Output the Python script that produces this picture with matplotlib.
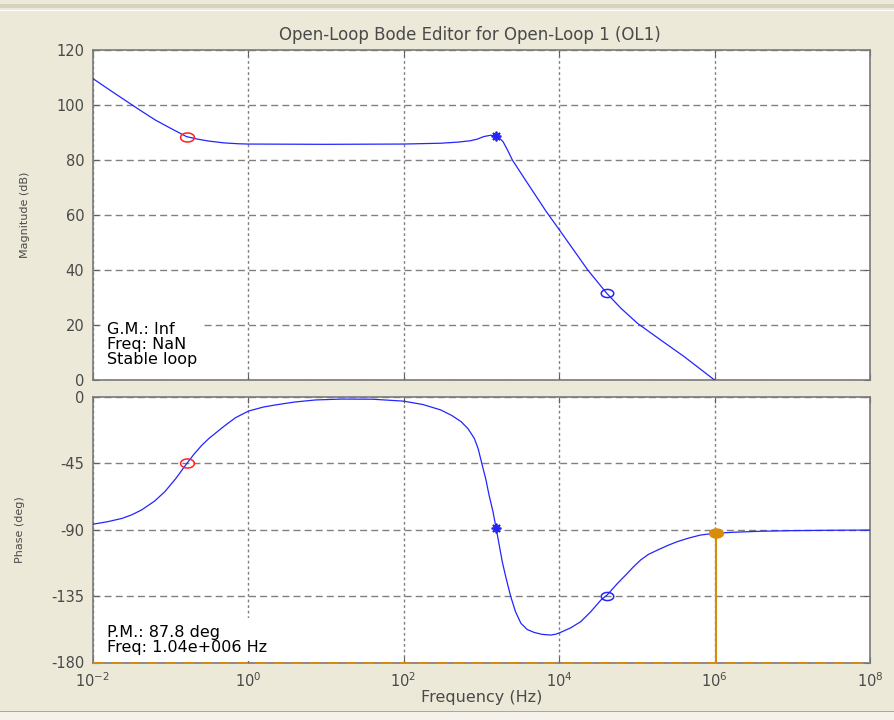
import numpy as np
import matplotlib
matplotlib.use("Agg")
import matplotlib.pyplot as plt
from matplotlib.path import Path
from matplotlib.patches import Rectangle
from matplotlib.ticker import FixedLocator, NullLocator, LogFormatterMathtext

plt.rcParams['font.family'] = ['DejaVu Sans']
plt.rcParams['mathtext.default'] = 'regular'
plt.rcParams['axes.unicode_minus'] = False

# ---------------- data ----------------
mag_freq = [0.01, 0.0178, 0.0316, 0.0447, 0.0646, 0.1, 0.162, 0.224, 0.309,
            0.5, 0.759, 1.0, 10.0, 100.0, 302.0, 501.0, 724.0, 891.0, 1072.0,
            1318.0, 1549.0, 1698.0, 1905.0, 2188.0, 2512.0, 3548.0, 6761.0,
            10470.0, 23440.0, 41210.0, 63100.0, 102300.0, 204200.0, 407400.0,
            1.0e6, 1.0e7]
mag_db = [109.7, 104.9, 100.2, 97.4, 94.5, 91.6, 88.5, 87.6, 86.9,
          86.2, 85.9, 85.8, 85.7, 85.8, 86.1, 86.5, 87.0, 87.6, 88.5,
          89.0, 88.7, 88.0, 86.7, 83.5, 80.0, 73.5, 61.5,
          54.0, 40.0, 31.5, 26.0, 20.6, 14.5, 8.5,
          0.0, -19.0]

phase_freq = [0.01, 0.0158, 0.024, 0.0316, 0.0427, 0.0631, 0.0851, 0.117,
              0.162, 0.204, 0.257, 0.316, 0.380, 0.501, 0.692, 1.02, 1.58,
              2.24, 3.98, 7.41, 16.2, 39.8, 100.0, 178.0, 302.0, 417.0, 550.0,
              676.0, 813.0, 912.0, 1023.0, 1148.0, 1259.0, 1413.0, 1549.0,
              1698.0, 1862.0, 2089.0, 2399.0, 2754.0, 3236.0, 3890.0, 4786.0,
              6026.0, 7762.0, 9120.0, 10470.0, 14130.0, 19050.0, 25700.0,
              34670.0, 41690.0, 56230.0, 75860.0, 91200.0, 112200.0, 141300.0,
              186200.0, 251200.0, 331100.0, 467700.0, 660700.0, 1.0e6, 1.778e6,
              3.98e6, 1.0e7, 3.16e7, 1.0e8]
phase_deg = [-86.3, -84.5, -82.3, -80.0, -76.6, -70.5, -64.2, -55.5,
             -45.3, -38.5, -32.5, -28.0, -24.6, -19.5, -14.0, -9.5, -6.8,
             -5.4, -3.4, -2.0, -1.4, -1.5, -2.8, -5.1, -8.8, -12.5, -16.7,
             -21.5, -28.0, -35.0, -45.6, -56.0, -66.4, -77.5, -88.6,
             -100.0, -111.6, -123.0, -135.4, -145.5, -153.4, -157.6, -159.6,
             -160.9, -161.4, -160.8, -159.6, -156.5, -152.3, -145.5,
             -137.6, -134.2, -126.5, -119.5, -115.0, -110.5, -106.7,
             -103.7, -100.6, -98.1, -95.6, -93.6, -92.4, -91.7,
             -91.0, -90.6, -90.35, -90.2]

# compensator / plant markers
zero1_freq, zero1_mag, zero1_phase = 0.162, 88.5, -45.0
pole_freq, pole_mag, pole_phase = 1549.0, 88.7, -88.6
zero2_freq, zero2_mag, zero2_phase = 41210.0, 31.5, -135.0
pm_freq, pm_phase = 1.04e6, -92.2

mag_ticks = [0, 20, 40, 60, 80, 100, 120]
phase_ticks = [-180, -135, -90, -45, 0]
phase_ticklabels = ['-180', '-135', '-90', '-45', '0']
freq_ticks = [1e-2, 1e0, 1e2, 1e4, 1e6, 1e8]

gm_text = "G.M.: Inf\nFreq: NaN\nStable loop"
pm_text = "P.M.: 87.8 deg\nFreq: 1.04e+006 Hz"
title = "Open-Loop Bode Editor for Open-Loop 1 (OL1)"

# ---------------- styling ----------------
W, H = 894, 720
bg = '#ECE9D8'
blue = '#2424ff'
red = '#ff2020'
orange = '#D98B0A'
gridc = '#808080'
txtc = '#4a4a4a'

theta = np.linspace(0, 2 * np.pi, 64)
ellipse = Path(np.column_stack([np.cos(theta), 0.65 * np.sin(theta)]))

fig = plt.figure(figsize=(W / 100, H / 100), dpi=100, facecolor=bg)

def fx(px):
    return px / W

def fy(py):
    return 1 - py / H

# window decorations
fig.add_artist(Rectangle((0, fy(8)), 1, 4 / H, transform=fig.transFigure,
                         facecolor='#D6D2BE', edgecolor='none', zorder=-5))
fig.add_artist(Rectangle((0, fy(11)), 1, 1.5 / H, transform=fig.transFigure,
                         facecolor='white', edgecolor='none', zorder=-5))
fig.add_artist(Rectangle((0, 0), 1, 9 / H, transform=fig.transFigure,
                         facecolor='#F4F2EA', edgecolor='none', zorder=-5))
fig.add_artist(Rectangle((0, fy(712)), 1, 1.5 / H, transform=fig.transFigure,
                         facecolor='#A8A8A0', edgecolor='none', zorder=-5))

left, right = 92.5, 870
ax1 = fig.add_axes([fx(left), fy(380), fx(right - left), (380 - 50) / H])
ax2 = fig.add_axes([fx(left), fy(662.5), fx(right - left), (662.5 - 397) / H])

for ax in (ax1, ax2):
    ax.set_facecolor('white')
    ax.set_xscale('log')
    ax.set_xlim(1e-2, 1e8)
    ax.xaxis.set_major_locator(FixedLocator(freq_ticks))
    ax.xaxis.set_minor_locator(NullLocator())
    ax.set_axisbelow(True)
    ax.xaxis.grid(True, linestyle=(0, (2, 2)), color=gridc, lw=1.0)
    ax.yaxis.grid(True, linestyle=(0, (5, 3)), color=gridc, lw=1.0)
    ax.tick_params(which='both', direction='in', top=True, right=True,
                   length=4, width=0.8, color='#606060', labelcolor=txtc,
                   labelsize=10.5, pad=6)
    for s in ax.spines.values():
        s.set_color('#7a7a7a')
        s.set_linewidth(1.2)

# ---- magnitude ----
ax1.plot(mag_freq, mag_db, color=blue, lw=0.9, zorder=3)
ax1.plot([zero1_freq], [zero1_mag], marker=ellipse, ms=10, mfc='none', mec=red, mew=1.1, ls='none', zorder=5)
ax1.plot([pole_freq], [pole_mag], marker=(8, 2, 0), ms=7, mec=blue, mew=1.3, ls='none', zorder=5)
ax1.plot([zero2_freq], [zero2_mag], marker=ellipse, ms=9, mfc='none', mec=blue, mew=1.1, ls='none', zorder=5)
ax1.set_ylim(0, 120)
ax1.set_yticks(mag_ticks)
ax1.tick_params(labelbottom=False)
ax1.set_ylabel('Magnitude (dB)', fontsize=8, color=txtc)
ax1.yaxis.set_label_coords((30 - left) / (right - left), 0.5)
ax1.text(0.0186, 0.040, gm_text, transform=ax1.transAxes, fontsize=11.5,
         color='black', ha='left', va='bottom', linespacing=0.98, zorder=4,
         bbox=dict(boxstyle='square,pad=0.4', facecolor='white', edgecolor='none'))
fig.text(0.526, fy(35), title, fontsize=12, color=txtc, ha='center', va='center')

# ---- phase ----
ax2.plot(phase_freq, phase_deg, color=blue, lw=0.9, zorder=3)
ax2.plot([zero1_freq], [zero1_phase], marker=ellipse, ms=10, mfc='none', mec=red, mew=1.1, ls='none', zorder=5)
ax2.plot([pole_freq], [pole_phase], marker=(8, 2, 0), ms=7, mec=blue, mew=1.3, ls='none', zorder=5)
ax2.plot([zero2_freq], [zero2_phase], marker=ellipse, ms=9, mfc='none', mec=blue, mew=1.1, ls='none', zorder=5)
ax2.axhline(-180, color=orange, lw=1.3, ls=(0, (6, 4)), zorder=6, clip_on=False)
ax2.plot([pm_freq, pm_freq], [-180, pm_phase], color=orange, lw=1.5, zorder=4)
ax2.plot([pm_freq], [pm_phase], marker=ellipse, ms=10, mfc=orange, mec=orange, ls='none', zorder=6)
ax2.set_ylim(-180, 0)
ax2.set_yticks(phase_ticks)
ax2.set_yticklabels(phase_ticklabels)
ax2.xaxis.set_major_formatter(LogFormatterMathtext())
ax2.set_ylabel('Phase (deg)', fontsize=8, color=txtc)
ax2.yaxis.set_label_coords((25 - left) / (right - left), 0.5)
ax2.set_xlabel('Frequency (Hz)', fontsize=11.5, color=txtc, labelpad=0)
ax2.text(0.0186, 0.030, pm_text, transform=ax2.transAxes, fontsize=11.5,
         color='black', ha='left', va='bottom', linespacing=0.98, zorder=4,
         bbox=dict(boxstyle='square,pad=0.4', facecolor='white', edgecolor='none'))

fig.savefig('out.png', dpi=100, facecolor=bg)
